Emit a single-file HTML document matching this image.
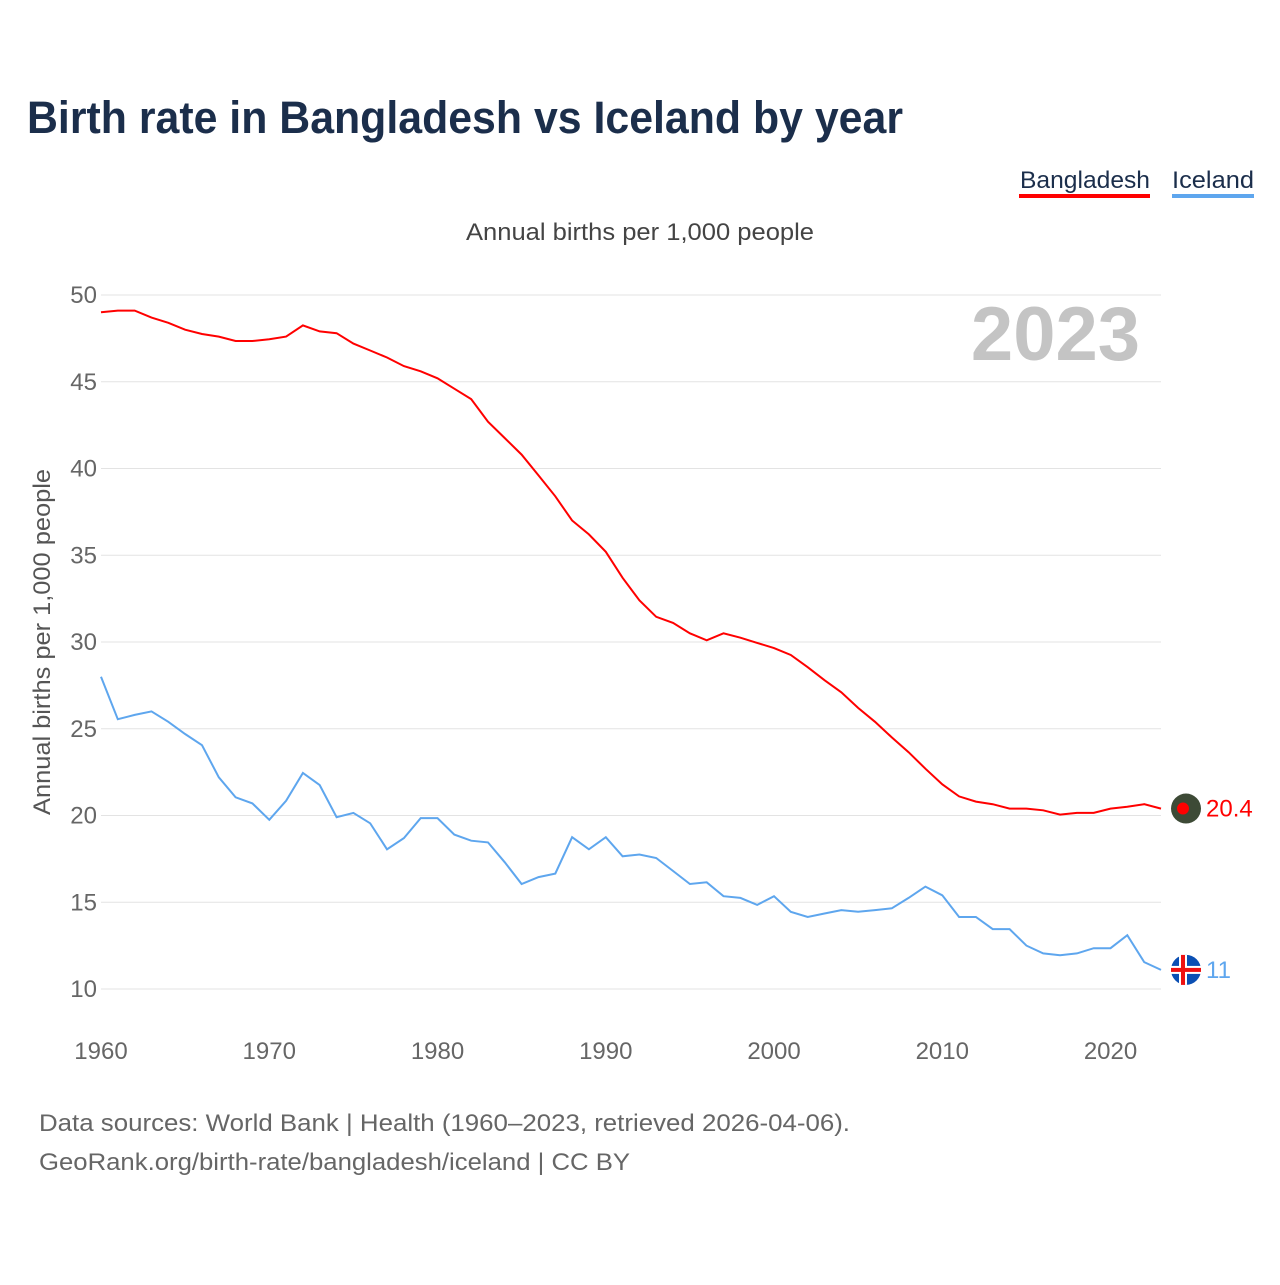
<!DOCTYPE html>
<html><head><meta charset="utf-8"><style>
body{margin:0;background:#fff;font-family:"Liberation Sans",sans-serif;}
</style></head><body>
<svg id="chart" width="1280" height="1280" xmlns="http://www.w3.org/2000/svg" font-family="Liberation Sans, sans-serif">
<rect width="1280" height="1280" fill="#fff"/>
<text x="27" y="133" font-size="45" font-weight="bold" fill="#1b2e4b" textLength="876" lengthAdjust="spacingAndGlyphs">Birth rate in Bangladesh vs Iceland by year</text>
<g><text x="1020" y="188" font-size="24" fill="#1b2e4b" textLength="130" lengthAdjust="spacingAndGlyphs">Bangladesh</text><rect x="1019" y="194" width="131" height="4" fill="#f00"/></g>
<g><text x="1172" y="188" font-size="24" fill="#1b2e4b" textLength="82" lengthAdjust="spacingAndGlyphs">Iceland</text><rect x="1172" y="194" width="82" height="4" fill="#5ea6ee"/></g>
<text x="466" y="240" font-size="24" fill="#444" textLength="348" lengthAdjust="spacingAndGlyphs">Annual births per 1,000 people</text>
<text x="1140" y="360" font-size="76" font-weight="bold" fill="#c4c4c4" text-anchor="end">2023</text>
<text transform="translate(50,642) rotate(-90)" font-size="24" fill="#555" text-anchor="middle" textLength="346" lengthAdjust="spacingAndGlyphs">Annual births per 1,000 people</text>
<g id="grid"></g><g id="series"></g>
<text x="39" y="1131" font-size="24" fill="#666" textLength="811" lengthAdjust="spacingAndGlyphs">Data sources: World Bank | Health (1960–2023, retrieved 2026-04-06).</text>
<text x="39" y="1170" font-size="24" fill="#666" textLength="591" lengthAdjust="spacingAndGlyphs">GeoRank.org/birth-rate/bangladesh/iceland | CC BY</text>
</svg>
<script>
const years=[];for(let y=1960;y<=2023;y++)years.push(y);
const yTicks=[10,15,20,25,30,35,40,45,50];
const xTicks=[1960,1970,1980,1990,2000,2010,2020];
const bangladesh=[49.0,49.1,49.1,48.7,48.4,48.0,47.75,47.6,47.35,47.35,47.45,47.6,48.25,47.9,47.8,47.2,46.8,46.4,45.9,45.6,45.2,44.6,44.0,42.7,41.75,40.8,39.6,38.4,37.0,36.2,35.2,33.7,32.4,31.45,31.1,30.5,30.1,30.5,30.25,29.95,29.65,29.25,28.55,27.8,27.1,26.2,25.4,24.5,23.65,22.7,21.8,21.1,20.8,20.65,20.4,20.4,20.3,20.05,20.15,20.15,20.4,20.5,20.65,20.4];
const iceland=[28.0,25.55,25.8,26.0,25.4,24.7,24.05,22.2,21.05,20.7,19.75,20.85,22.45,21.75,19.9,20.15,19.55,18.05,18.7,19.85,19.85,18.9,18.55,18.45,17.3,16.05,16.45,16.65,18.75,18.05,18.75,17.65,17.75,17.55,16.8,16.05,16.15,15.35,15.25,14.85,15.35,14.45,14.15,14.35,14.55,14.45,14.55,14.65,15.25,15.9,15.4,14.15,14.15,13.45,13.45,12.5,12.05,11.95,12.05,12.35,12.35,13.1,11.55,11.1];
const NS="http://www.w3.org/2000/svg";
const X=v=>101+(v-1960)*(1060/63);
const Y=v=>989-(v-10)*(694/40);
function mk(t,a,p){const e=document.createElementNS(NS,t);for(const k in a)e.setAttribute(k,a[k]);p.appendChild(e);return e;}
const g=document.getElementById('grid'),s=document.getElementById('series');
yTicks.forEach(v=>{
 const l=mk('line',{x1:101,x2:1161,y1:Y(v),y2:Y(v),stroke:'#e3e3e3','stroke-width':1},g);
 
 
 const t=mk('text',{x:97,y:Y(v)+8,'font-size':24,fill:'#666','text-anchor':'end'},g);t.textContent=v;
 
 
});
xTicks.forEach(v=>{
 const t=mk('text',{x:X(v),y:1059,'font-size':24,fill:'#666','text-anchor':'middle'},g);t.textContent=v;
 
 
});
function line(data,color,name){
 const p=mk('path',{d:data.map((v,i)=>(i?'L':'M')+X(years[i]).toFixed(1)+','+Y(v).toFixed(1)).join(''),fill:'none',stroke:color,'stroke-width':2},s);
 
 
}
line(bangladesh,'#f00','bangladesh');line(iceland,'#5ea6ee','iceland');
const lb=bangladesh[bangladesh.length-1],li=iceland[iceland.length-1];
const fb=mk('g',{},s);


mk('circle',{cx:1186,cy:Y(lb),r:15,fill:'#3d4a36'},fb);mk('circle',{cx:1183,cy:Y(lb),r:6,fill:'#f00'},fb);
const fi=mk('g',{},s);


mk('circle',{cx:1186,cy:Y(li),r:15,fill:'#0b4fb3'},fi);
mk('rect',{x:1171,y:Y(li)-4,width:30,height:8,fill:'#fff'},fi);mk('rect',{x:1179,y:Y(li)-15,width:8,height:30,fill:'#fff'},fi);
mk('rect',{x:1171,y:Y(li)-2,width:30,height:4,fill:'#e11'},fi);mk('rect',{x:1181,y:Y(li)-15,width:4,height:30,fill:'#e11'},fi);
const tb=mk('text',{x:1206,y:Y(lb)+8,'font-size':24,fill:'#f00'},s);tb.textContent=lb;


const ti=mk('text',{x:1206,y:Y(li)+8,'font-size':24,fill:'#5ea6ee'},s);ti.textContent=Math.round(li);


</script>
</body></html>
